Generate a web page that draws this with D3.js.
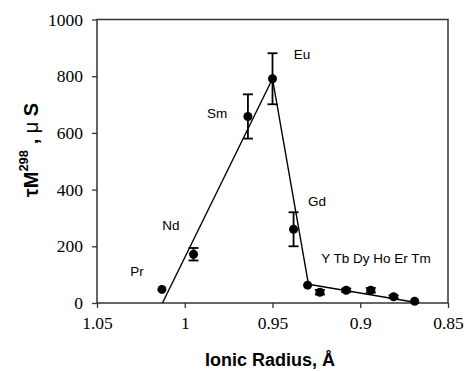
<!DOCTYPE html>
<html>
<head>
<meta charset="utf-8">
<script src="https://cdn.jsdelivr.net/npm/d3@7"></script>
<style>
  body { margin: 0; background: #fff; }
  svg { display: block; }
</style>
</head>
<body>
<div id="chart"></div>
<script>
// ionic radius (A) and tau values
var ions   = ["Pr", "Nd", "Sm", "Eu", "Gd", "Y", "Tb", "Dy", "Ho", "Er", "Tm"];
var radius = [1.013, 0.995, 0.964, 0.950, 0.938, 0.930, 0.923, 0.908, 0.894, 0.881, 0.869];
var tau    = [48, 172, 658, 791, 260, 63, 38, 45, 45, 22, 6];
var err    = [0, 22, 78, 90, 60, 0, 8, 6, 8, 5, 0];

// the three straight fits drawn on the plot
var fit1 = [[1.0127, 0], [0.950, 791]];
var fit2 = [[0.950, 791], [0.9295, 66]];
var fit3 = [[0.9295, 66], [0.8665, 0]];

var xTicks = [1.05, 1, 0.95, 0.9, 0.85];
var yTicks = [0, 200, 400, 600, 800, 1000];

var W = 467, H = 371;
var svg = d3.select("#chart").append("svg")
  .attr("width", W).attr("height", H);

var x = d3.scaleLinear().domain([1.05, 0.85]).range([97, 448]);
var y = d3.scaleLinear().domain([0, 1000]).range([303, 19.5]);

// frame
svg.append("rect")
  .attr("x", x(1.05)).attr("y", y(1000))
  .attr("width", x(0.85) - x(1.05)).attr("height", y(0) - y(1000))
  .attr("fill", "none").attr("stroke", "#333").attr("stroke-width", 1.5);

var xAxis = svg.append("g")
  .attr("transform", "translate(0," + y(0) + ")")
  .call(d3.axisBottom(x).tickValues(xTicks).tickSize(5).tickPadding(9)
    .tickFormat(function(d){ return String(d); }));

var yAxis = svg.append("g")
  .attr("transform", "translate(" + x(1.05) + ",0)")
  .call(d3.axisLeft(y).tickValues(yTicks).tickSize(5).tickPadding(9)
    .tickFormat(d3.format("d")));

xAxis.attr("font-family", "Liberation Serif").attr("font-size", 17.5);
yAxis.attr("font-family", "Liberation Serif").attr("font-size", 17.5);

svg.selectAll(".domain").remove();
svg.selectAll(".tick line").attr("stroke", "#333").attr("stroke-width", 1.3);
svg.selectAll(".tick text").attr("fill", "#000");

// fit lines
var line = d3.line().x(function(d){ return x(d[0]); }).y(function(d){ return y(d[1]); });
[fit1, fit2, fit3].forEach(function(f){
  svg.append("path").attr("d", line(f))
    .attr("fill", "none").attr("stroke", "#000").attr("stroke-width", 1.4);
});

var pts = ions.map(function(n, i){ return {ion: n, r: radius[i], t: tau[i], e: err[i]}; });

// error bars
var eb = svg.append("g").selectAll("g").data(pts.filter(function(d){ return d.e > 0; }))
  .enter().append("g").attr("stroke", "#000").attr("stroke-width", 1.8);
eb.append("line")
  .attr("x1", function(d){ return x(d.r); }).attr("x2", function(d){ return x(d.r); })
  .attr("y1", function(d){ return y(d.t + d.e); }).attr("y2", function(d){ return y(d.t - d.e); });
eb.append("line")
  .attr("x1", function(d){ return x(d.r) - 5; }).attr("x2", function(d){ return x(d.r) + 5; })
  .attr("y1", function(d){ return y(d.t + d.e); }).attr("y2", function(d){ return y(d.t + d.e); });
eb.append("line")
  .attr("x1", function(d){ return x(d.r) - 5; }).attr("x2", function(d){ return x(d.r) + 5; })
  .attr("y1", function(d){ return y(d.t - d.e); }).attr("y2", function(d){ return y(d.t - d.e); });

svg.append("g").selectAll("circle").data(pts).enter().append("circle")
  .attr("cx", function(d){ return x(d.r); })
  .attr("cy", function(d){ return y(d.t); })
  .attr("r", 4.5).attr("fill", "#000");

// ion labels
var labels = [
  {t: "Pr", x: 137, y: 276},
  {t: "Nd", x: 171, y: 230},
  {t: "Sm", x: 217, y: 118},
  {t: "Eu", x: 302, y: 59},
  {t: "Gd", x: 317, y: 206},
  {t: "Y Tb Dy Ho Er Tm", x: 376, y: 263}
];
svg.append("g").selectAll("text").data(labels).enter().append("text")
  .attr("x", function(d){ return d.x; }).attr("y", function(d){ return d.y; })
  .attr("text-anchor", "middle")
  .attr("font-family", "Liberation Sans, Arial, sans-serif")
  .attr("font-size", 13.5).attr("fill", "#000")
  .text(function(d){ return d.t; });

// axis titles
svg.append("text")
  .attr("x", 270).attr("y", 366)
  .attr("text-anchor", "middle")
  .attr("font-family", "Liberation Sans, Arial, sans-serif")
  .attr("font-size", 18).attr("font-weight", "bold")
  .text("Ionic Radius, Å");

var yl = svg.append("text")
  .attr("transform", "translate(38,150) rotate(-90)")
  .attr("text-anchor", "middle")
  .attr("font-family", "Liberation Sans, Arial, sans-serif")
  .attr("font-size", 20).attr("font-weight", "bold");
yl.append("tspan").text("τM");
yl.append("tspan").attr("font-size", 13).attr("dy", -10).text("298");
yl.append("tspan").attr("dy", 10).text(" , ");
yl.append("tspan").attr("font-weight", "normal").text("μ");
yl.append("tspan").text(" S");
</script>
</body>
</html>
